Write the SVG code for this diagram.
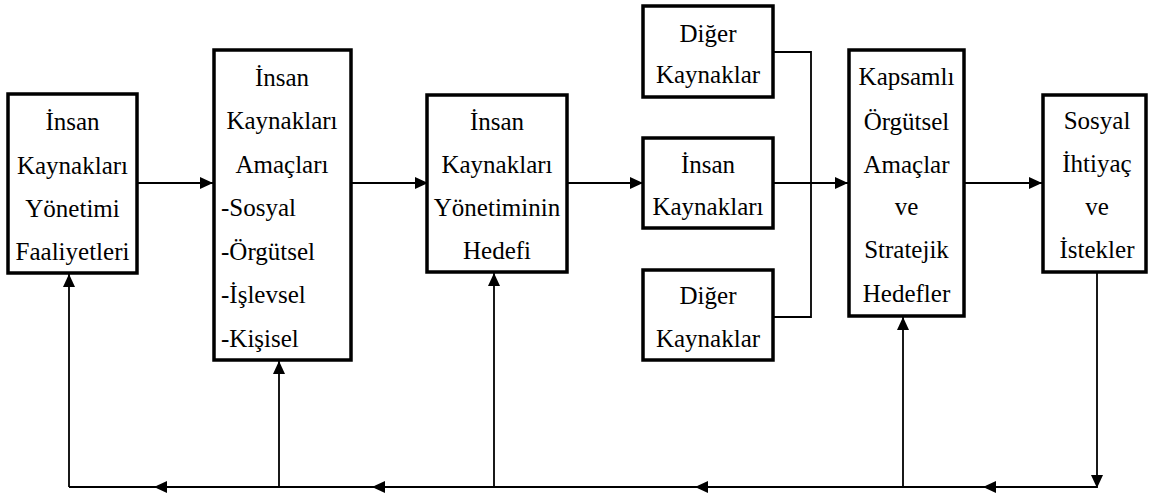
<svg xmlns="http://www.w3.org/2000/svg" width="1149" height="498" viewBox="0 0 1149 498">
<style>
.box{fill:#fff;stroke:#000;stroke-width:3.5}
.t{font-size:25px;fill:#000;text-anchor:middle}
.l{text-anchor:start}
.c{fill:none;stroke:#000;stroke-width:1.8}
.ah{fill:#000}
</style>
<defs>
<marker id="arr" markerUnits="userSpaceOnUse" markerWidth="14" markerHeight="12" refX="13" refY="6" orient="auto">
<path d="M0,0 L13,6 L0,12 Z" fill="#000"/>
</marker>
<path id="lh" d="M0,0 L13,-6 L13,6 Z"/>
</defs>
<rect width="1149" height="498" fill="#fff"/>
<g id="connectors">
<path class="c" d="M137,183 H213" marker-end="url(#arr)"/>
<path class="c" d="M351,183 H428" marker-end="url(#arr)"/>
<path class="c" d="M567,183 H643" marker-end="url(#arr)"/>
<path class="c" d="M773,183 H848" marker-end="url(#arr)"/>
<path class="c" d="M964,183 H1042" marker-end="url(#arr)"/>
<path class="c" d="M773,52 H811 V317 H773"/>
<path class="c" d="M1097,272 V488" marker-end="url(#arr)"/>
<path class="c" d="M1097,487 H69"/>
<path class="c" d="M69,487 V274" marker-end="url(#arr)"/>
<path class="c" d="M279,487 V361" marker-end="url(#arr)"/>
<path class="c" d="M494,487 V273" marker-end="url(#arr)"/>
<path class="c" d="M903,487 V317" marker-end="url(#arr)"/>
<use href="#lh" class="ah" x="154" y="487"/>
<use href="#lh" class="ah" x="372" y="487"/>
<use href="#lh" class="ah" x="695" y="487"/>
<use href="#lh" class="ah" x="983" y="487"/>
</g>
<g font-family="Liberation Serif, Times New Roman, Noto Serif, DejaVu Serif, serif">
<g id="n1">
<rect class="box" x="8" y="94" width="129" height="179"/>
<text class="t" x="72.5" y="130">İnsan</text>
<text class="t" x="72.5" y="174">Kaynakları</text>
<text class="t" x="72.5" y="217">Yönetimi</text>
<text class="t" x="72.5" y="260">Faaliyetleri</text>
</g>
<g id="n2">
<rect class="box" x="214" y="50" width="137" height="310"/>
<text class="t" x="282" y="86">İnsan</text>
<text class="t" x="282" y="129">Kaynakları</text>
<text class="t" x="282" y="173">Amaçları</text>
<text class="t l" x="221" y="216">-Sosyal</text>
<text class="t l" x="221" y="260">-Örgütsel</text>
<text class="t l" x="221" y="303">-İşlevsel</text>
<text class="t l" x="221" y="347">-Kişisel</text>
</g>
<g id="n3">
<rect class="box" x="427" y="95" width="140" height="177"/>
<text class="t" x="497" y="130">İnsan</text>
<text class="t" x="497" y="173">Kaynakları</text>
<text class="t" x="497" y="216">Yönetiminin</text>
<text class="t" x="497" y="259">Hedefi</text>
</g>
<g id="n4">
<rect class="box" x="643" y="6" width="130" height="91"/>
<text class="t" x="708" y="42">Diğer</text>
<text class="t" x="708" y="83">Kaynaklar</text>
</g>
<g id="n5">
<rect class="box" x="643" y="138" width="130" height="90"/>
<text class="t" x="708" y="173">İnsan</text>
<text class="t" x="708" y="215">Kaynakları</text>
</g>
<g id="n6">
<rect class="box" x="643" y="270" width="130" height="90"/>
<text class="t" x="708" y="304">Diğer</text>
<text class="t" x="708" y="347">Kaynaklar</text>
</g>
<g id="n7">
<rect class="box" x="849" y="50" width="115" height="266"/>
<text class="t" x="906.5" y="85">Kapsamlı</text>
<text class="t" x="906.5" y="130">Örgütsel</text>
<text class="t" x="906.5" y="173">Amaçlar</text>
<text class="t" x="906.5" y="215">ve</text>
<text class="t" x="906.5" y="258">Stratejik</text>
<text class="t" x="906.5" y="302">Hedefler</text>
</g>
<g id="n8">
<rect class="box" x="1043" y="95" width="103" height="177"/>
<text class="t" x="1097" y="129">Sosyal</text>
<text class="t" x="1097" y="172">İhtiyaç</text>
<text class="t" x="1097" y="215">ve</text>
<text class="t" x="1097" y="258">İstekler</text>
</g>
</g>
</svg>
